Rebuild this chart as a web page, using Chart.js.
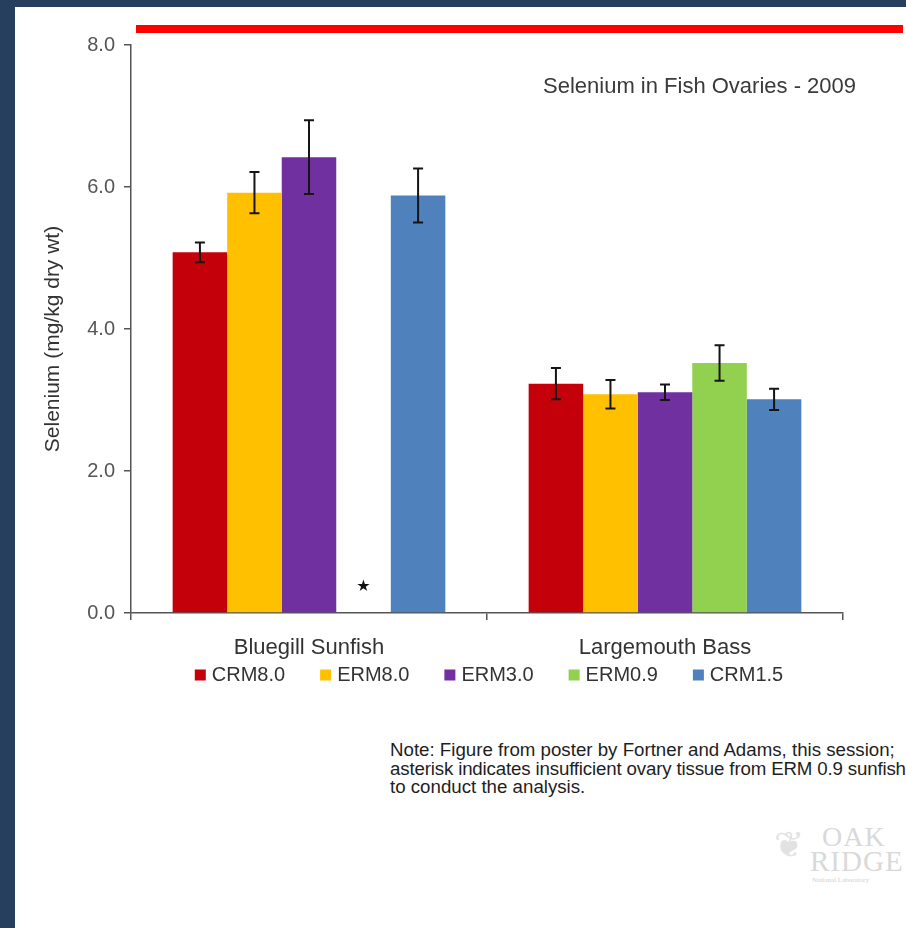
<!DOCTYPE html>
<html>
<head>
<meta charset="utf-8">
<script src="https://cdn.jsdelivr.net/npm/chart.js@4.4.1/dist/chart.umd.min.js"></script>
<style>
  html, body { margin: 0; padding: 0; }
  body {
    width: 906px; height: 928px; position: relative; overflow: hidden;
    background: #ffffff; font-family: "Liberation Sans", Arial, sans-serif;
  }
  #frameLeft { position: absolute; left: 0; top: 0; width: 15px; height: 928px; background: #263f5f; }
  #frameTop { position: absolute; left: 0; top: 0; width: 906px; height: 7px; background: #263f5f; }
  #rule { position: absolute; left: 136px; top: 25px; width: 767px; height: 8px; background: #ff0000; }
  #wrap { position: absolute; left: 0; top: 0; width: 906px; height: 700px; }
  #title {
    position: absolute; left: 543px; top: 73px; font-size: 22px; color: #3a3a3a; white-space: nowrap;
  }
  #note {
    position: absolute; left: 390px; top: 741px; font-size: 18.7px; line-height: 18.5px;
    color: #1e1e1e; white-space: nowrap;
  }
  #note .tight { letter-spacing: -0.16px; }
  #logo { position: absolute; left: 772px; top: 818px; width: 140px; height: 70px; color: #d9d9d9; }
  #logo .leaf { position: absolute; left: 2px; top: 6px; font-family: "DejaVu Sans"; font-size: 36px; color: #e2e2e2; }
  #logo .oak { position: absolute; left: 50px; top: 3px; font-family: "Liberation Serif", serif; font-size: 28px; letter-spacing: 1px; }
  #logo .ridge { position: absolute; left: 38px; top: 27px; font-family: "Liberation Serif", serif; font-size: 29px; letter-spacing: 1px; }
  #logo .lab { position: absolute; left: 40px; top: 58px; font-family: "Liberation Serif", serif; font-size: 7px; color: #d0d0d0; white-space: nowrap; }
</style>
</head>
<body>
<div id="frameLeft"></div>
<div id="frameTop"></div>
<div id="rule"></div>
<div id="wrap"><canvas id="chart" width="906" height="700"></canvas></div>
<div id="title">Selenium in Fish Ovaries - 2009</div>
<div id="note">Note: Figure from poster by Fortner and Adams, this session;<br><span class="tight">asterisk indicates insufficient ovary tissue from ERM 0.9 sunfish</span><br>to conduct the analysis.</div>
<div id="logo"><span class="leaf">❦</span><span class="oak">OAK</span><span class="ridge">RIDGE</span><span class="lab">National Laboratory</span></div>

<script>
// Fish species along the x axis
const categories = ['Bluegill Sunfish', 'Largemouth Bass'];

// Sampling sites (one bar series each)
const siteNames = ['CRM8.0', 'ERM8.0', 'ERM3.0', 'ERM0.9', 'CRM1.5'];

// Mean selenium, mg/kg dry wt (null = no tissue analysed)
const crm80 = [5.08, 3.23];
const erm80 = [5.92, 3.08];
const erm30 = [6.42, 3.11];
const erm09 = [null, 3.52];
const crm15 = [5.88, 3.01];

// Half-width of the error bars
const crm80Err = [0.14, 0.22];
const erm80Err = [0.29, 0.20];
const erm30Err = [0.52, 0.11];
const erm09Err = [null, 0.25];
const crm15Err = [0.38, 0.15];

// Y axis ticks
const yTicks = [0, 2, 4, 6, 8];

const yTitle = 'Selenium (mg/kg dry wt)';
const missingMark = '★';

const palette = ['#c4000a', '#ffc000', '#7030a0', '#92d050', '#4f81bd'];
const seriesValues = [crm80, erm80, erm30, erm09, crm15];
const seriesErrors = [crm80Err, erm80Err, erm30Err, erm09Err, crm15Err];

const datasets = siteNames.map((name, i) => ({
  label: name,
  data: seriesValues[i],
  errors: seriesErrors[i],
  backgroundColor: palette[i],
  borderWidth: 0,
  barPercentage: 1.0,
  categoryPercentage: 0.766
}));

// Error bars with caps
const errorBarPlugin = {
  id: 'errorBars',
  afterDatasetsDraw(chart) {
    const ctx = chart.ctx;
    const y = chart.scales.y;
    ctx.save();
    ctx.strokeStyle = '#151515';
    ctx.lineWidth = 2;
    chart.data.datasets.forEach((ds, di) => {
      const meta = chart.getDatasetMeta(di);
      ds.data.forEach((v, i) => {
        const e = ds.errors[i];
        if (v == null || e == null) return;
        const x = meta.data[i].x;
        const top = y.getPixelForValue(v + e);
        const bot = y.getPixelForValue(v - e);
        ctx.beginPath();
        ctx.moveTo(x, top); ctx.lineTo(x, bot);
        ctx.moveTo(x - 5, top); ctx.lineTo(x + 5, top);
        ctx.moveTo(x - 5, bot); ctx.lineTo(x + 5, bot);
        ctx.stroke();
      });
    });
    ctx.restore();
  }
};

// Star in the slot of a series with no value
const missingPlugin = {
  id: 'missingMark',
  afterDatasetsDraw(chart) {
    const ctx = chart.ctx;
    const y = chart.scales.y;
    ctx.save();
    ctx.fillStyle = '#111';
    ctx.font = '16px "DejaVu Sans"';
    ctx.textAlign = 'center';
    ctx.textBaseline = 'middle';
    chart.data.datasets.forEach((ds, di) => {
      const meta = chart.getDatasetMeta(di);
      ds.data.forEach((v, i) => {
        if (v !== null) return;
        ctx.fillText(missingMark, meta.data[i].x, y.getPixelForValue(0) - 26);
      });
    });
    ctx.restore();
  }
};

// Rotated y axis title
const yTitlePlugin = {
  id: 'yTitle',
  afterDraw(chart) {
    const ctx = chart.ctx;
    const a = chart.chartArea;
    ctx.save();
    ctx.translate(53, (a.top + a.bottom) / 2 + 10);
    ctx.rotate(-Math.PI / 2);
    ctx.fillStyle = '#333';
    ctx.font = '21px "Liberation Sans"';
    ctx.textAlign = 'center';
    ctx.textBaseline = 'middle';
    ctx.fillText(yTitle, 0, 0);
    ctx.restore();
  }
};

// Single-row legend under the category labels
const rowLegendPlugin = {
  id: 'rowLegend',
  afterDraw(chart) {
    const ctx = chart.ctx;
    const a = chart.chartArea;
    const box = 11, gap = 6, itemGap = 35;
    ctx.save();
    ctx.font = '20px "Liberation Sans"';
    ctx.textBaseline = 'middle';
    const items = chart.data.datasets.map(ds => ({
      text: ds.label, color: ds.backgroundColor, w: box + gap + ctx.measureText(ds.label).width
    }));
    const total = items.reduce((s, it) => s + it.w, 0) + itemGap * (items.length - 1);
    let x = (a.left + a.right) / 2 + 2 - total / 2;
    const y = a.bottom + 62;
    items.forEach(it => {
      ctx.fillStyle = it.color;
      ctx.fillRect(x, y - box / 2, box, box);
      ctx.fillStyle = '#333';
      ctx.fillText(it.text, x + box + gap, y);
      x += it.w + itemGap;
    });
    ctx.restore();
  }
};

Chart.defaults.font.family = '"Liberation Sans", Arial, sans-serif';

new Chart(document.getElementById('chart'), {
  type: 'bar',
  data: { labels: categories, datasets },
  plugins: [errorBarPlugin, missingPlugin, yTitlePlugin, rowLegendPlugin],
  options: {
    responsive: false,
    animation: false,
    layout: { padding: { top: 45, right: 63, bottom: 39, left: 0 } },
    plugins: {
      tooltip: { enabled: false },
      legend: { display: false }
    },
    scales: {
      x: {
        grid: { drawOnChartArea: false, drawTicks: true, tickLength: 7, color: '#555', lineWidth: 1.5 },
        border: { color: '#555', width: 1.5 },
        ticks: { color: '#333', font: { size: 22 }, padding: 15 },
        afterFit(s) { s.height = 48; }
      },
      y: {
        min: yTicks[0], max: yTicks[yTicks.length - 1],
        afterBuildTicks(s) { s.ticks = yTicks.map(v => ({ value: v })); },
        grid: { drawOnChartArea: false, drawTicks: true, tickLength: 7, color: '#555', lineWidth: 1.5 },
        border: { color: '#555', width: 1.5 },
        ticks: { color: '#555', font: { size: 20 }, padding: 9, callback: v => Number(v).toFixed(1) },
        afterFit(s) { s.width = 131; }
      }
    }
  }
});
</script>
</body>
</html>
